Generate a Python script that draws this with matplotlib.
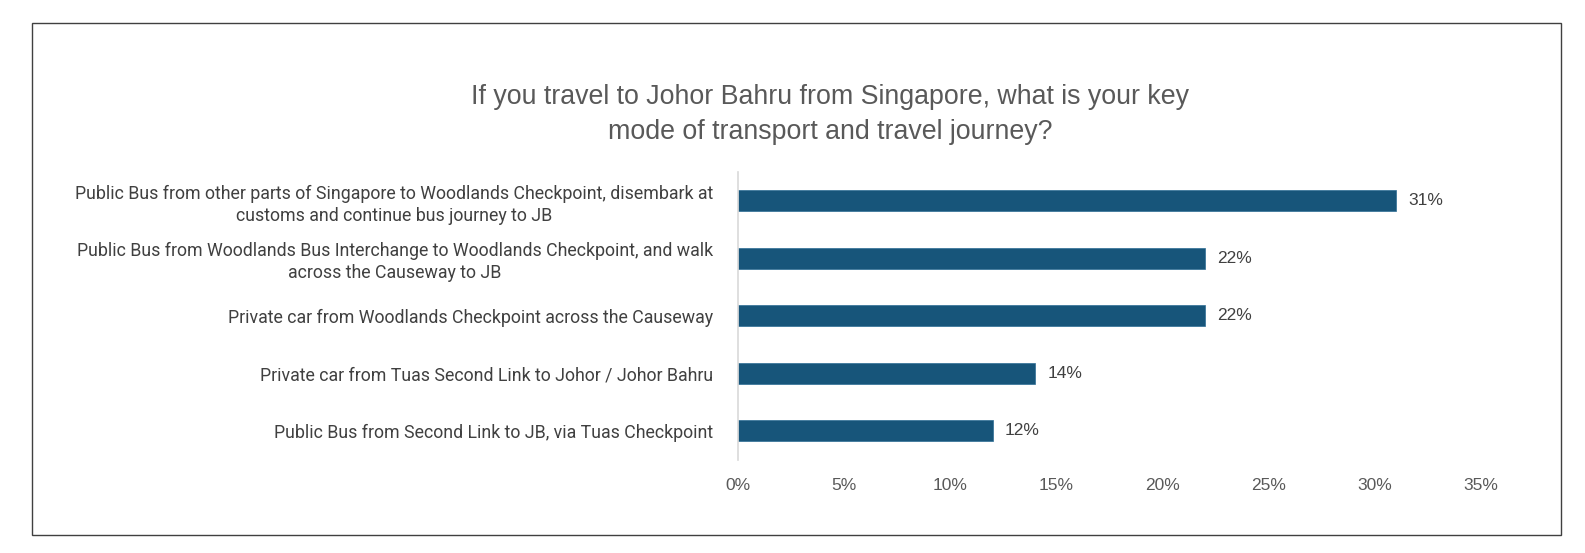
import matplotlib
matplotlib.use("Agg")
import matplotlib.pyplot as plt
from matplotlib.patches import Rectangle

# --- data -------------------------------------------------------------------
categories = [
    "Public Bus from other parts of Singapore to Woodlands Checkpoint, disembark at\ncustoms and continue bus journey to JB",
    "Public Bus from Woodlands Bus Interchange to Woodlands Checkpoint, and walk\nacross the Causeway to JB",
    "Private car from Woodlands Checkpoint across the Causeway",
    "Private car from Tuas Second Link to Johor / Johor Bahru",
    "Public Bus from Second Link to JB, via Tuas Checkpoint",
]
shares = [31, 22, 22, 14, 12]
xticks = [0, 5, 10, 15, 20, 25, 30, 35]
title = ("If you travel to Johor Bahru from Singapore, what is your key\n"
         "mode of transport and travel journey?")

BAR_COLOR = "#17557A"
TEXT_DARK = "#404040"
TEXT_GREY = "#595959"
LABEL_FONT = ["Roboto", "DejaVu Sans"]
BASE_FONT = ["Liberation Sans", "DejaVu Sans"]

W, H, DPI = 1585, 553, 100
fig = plt.figure(figsize=(W / DPI, H / DPI), dpi=DPI)

# outer frame
fig.patches.append(Rectangle((32 / W, 1 - 535 / H), (1561 - 32) / W, (535 - 23) / H,
                             transform=fig.transFigure, fill=False,
                             edgecolor="#404040", lw=1.0))

ax = fig.add_axes([738 / W, 1 - 459.5 / H, (1481 - 738) / W, (459.5 - 172) / H])
ypos = list(range(len(categories)))
ax.barh(ypos, shares, height=0.365, color=BAR_COLOR, edgecolor="#2E6E94", lw=0.5)
ax.set_ylim(len(categories) - 0.5, -0.5)
ax.set_xlim(0, 35)

ax.set_xticks(xticks)
ax.set_xticklabels(["%d%%" % t for t in xticks], fontsize=12.5, color=TEXT_GREY,
                   family=BASE_FONT)
ax.set_yticks(ypos)
ax.set_yticklabels(categories, fontsize=12.8, color=TEXT_DARK, family=LABEL_FONT,
                   multialignment="center", linespacing=1.3)
ax.tick_params(axis="x", length=0, pad=13)
ax.tick_params(axis="y", length=0, pad=18)

for s in ("top", "right", "bottom"):
    ax.spines[s].set_visible(False)
ax.spines["left"].set_color("#D9D9D9")
ax.spines["left"].set_linewidth(1.2)

for y, v in zip(ypos, shares):
    ax.annotate("%d%%" % v, (v, y), xytext=(12, 0), textcoords="offset pixels",
                va="center", ha="left", fontsize=12.5, color=TEXT_DARK,
                family=BASE_FONT)

fig.text(830 / W, 1 - 114 / H, title, ha="center", va="center", fontsize=19.3,
         color=TEXT_GREY, family=BASE_FONT, linespacing=1.45)

fig.savefig("out.png", dpi=DPI, facecolor="white")
